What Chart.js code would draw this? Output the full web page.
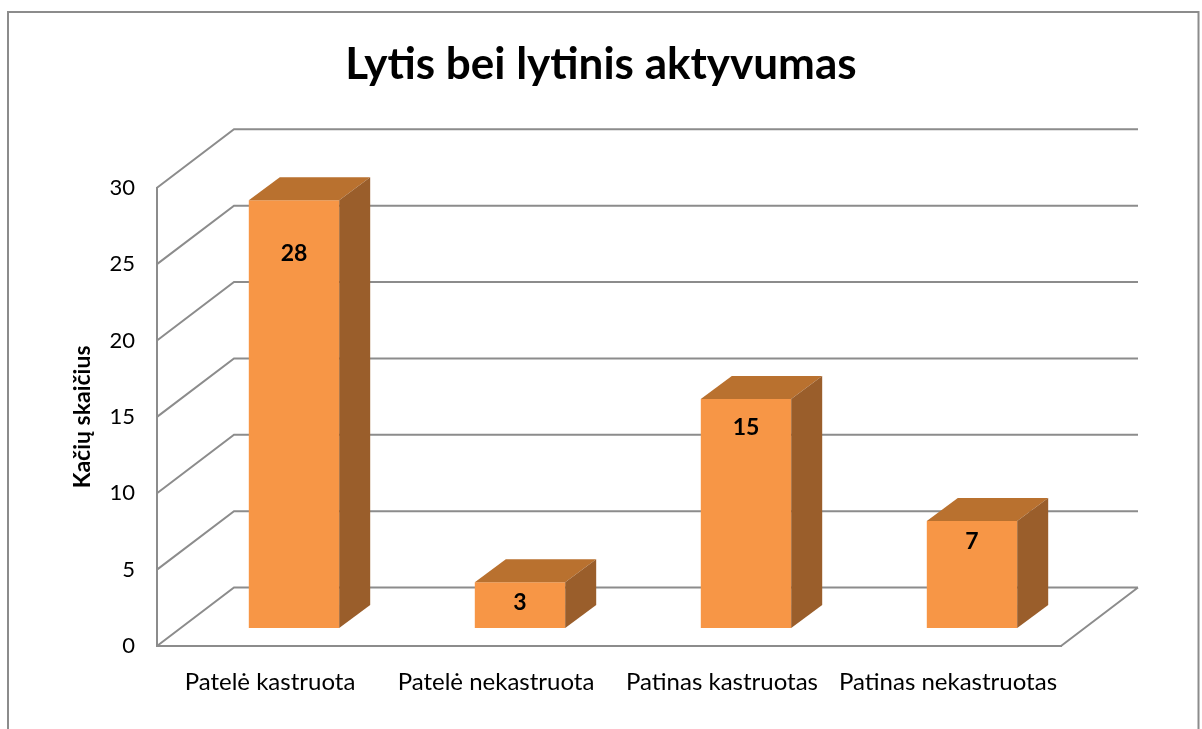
<!DOCTYPE html>
<html>
<head>
<meta charset="utf-8">
<script src="https://cdn.jsdelivr.net/npm/chart.js@4.4.1/dist/chart.umd.min.js"></script>
<style>
  html, body { margin: 0; padding: 0; background: #fff; }
  #wrap { position: relative; width: 1202px; height: 729px; }
</style>
</head>
<body>
<div id="wrap"><canvas id="chart"></canvas></div>
<script>
const categories = ['Patelė kastruota', 'Patelė nekastruota', 'Patinas kastruotas', 'Patinas nekastruotas'];
const catCounts = [28, 3, 15, 7];
const yTicks = [0, 5, 10, 15, 20, 25, 30];

const FONT = 'Lato, "Open Sans", sans-serif';
const GRID = '#8c8c8c';
const FRONT = '#f79646';
const TOP = '#b9712f';
const SIDE = '#9a5e2b';
// fake 3D: back wall offset, and where the bar front / back faces sit in depth
const WALL = { dx: 77, dy: -58.5 };
const BAR_FRONT = { dx: 24, dy: -18 };
const BAR_BACK = { dx: 55, dy: -41 };

const frame3d = {
  id: 'frame3d',
  beforeDraw(chart) {
    const ctx = chart.ctx;
    ctx.save();
    ctx.strokeStyle = GRID;
    ctx.lineWidth = 2;
    ctx.strokeRect(8, 12, 1190.5, 800);
    ctx.restore();
  },
  beforeDatasetsDraw(chart) {
    const { ctx, chartArea: a, scales: { y } } = chart;
    ctx.save();
    ctx.strokeStyle = GRID;
    ctx.lineWidth = 2;
    ctx.beginPath();
    yTicks.forEach(v => {
      const py = y.getPixelForValue(v);
      ctx.moveTo(a.left, py);
      ctx.lineTo(a.left + WALL.dx, py + WALL.dy);
      ctx.lineTo(a.right + WALL.dx, py + WALL.dy);
    });
    const y0 = y.getPixelForValue(yTicks[0]);
    ctx.moveTo(a.right, y0);
    ctx.lineTo(a.right + WALL.dx, y0 + WALL.dy);
    ctx.stroke();
    ctx.restore();
    // front faces are drawn by Chart.js, pushed back into the box
    ctx.save();
    ctx.translate(BAR_FRONT.dx, BAR_FRONT.dy);
  },
  afterDatasetsDraw(chart) {
    const ctx = chart.ctx;
    ctx.restore();
    const ddx = BAR_BACK.dx - BAR_FRONT.dx;
    const ddy = BAR_BACK.dy - BAR_FRONT.dy;
    chart.getDatasetMeta(0).data.forEach((bar, i) => {
      const { x, y, base, width } = bar.getProps(['x', 'y', 'base', 'width'], true);
      const l = x - width / 2 + BAR_FRONT.dx;
      const r = x + width / 2 + BAR_FRONT.dx;
      const t = y + BAR_FRONT.dy;
      const b = base + BAR_FRONT.dy;

      ctx.fillStyle = TOP;
      ctx.beginPath();
      ctx.moveTo(l, t);
      ctx.lineTo(l + ddx, t + ddy);
      ctx.lineTo(r + ddx, t + ddy);
      ctx.lineTo(r, t);
      ctx.closePath();
      ctx.fill();

      ctx.fillStyle = SIDE;
      ctx.beginPath();
      ctx.moveTo(r, t);
      ctx.lineTo(r + ddx, t + ddy);
      ctx.lineTo(r + ddx, b + ddy);
      ctx.lineTo(r, b);
      ctx.closePath();
      ctx.fill();

      const h = b - t;
      const off = Math.min(h / 2 + 3, Math.max(20, h * 0.125));
      ctx.fillStyle = '#000';
      ctx.font = 'bold 23px ' + FONT;
      ctx.textAlign = 'center';
      ctx.textBaseline = 'middle';
      ctx.fillText(String(catCounts[i]), (l + r) / 2, t + off);
    });
  }
};

new Chart(document.getElementById('chart'), {
  type: 'bar',
  data: {
    labels: categories,
    datasets: [{
      data: catCounts,
      backgroundColor: FRONT,
      borderWidth: 0,
      categoryPercentage: 1,
      barPercentage: 0.4
    }]
  },
  options: {
    responsive: true,
    maintainAspectRatio: false,
    animation: false,
    layout: { padding: 0 },
    plugins: {
      legend: { display: false },
      tooltip: { enabled: false },
      title: {
        display: true,
        text: 'Lytis bei lytinis aktyvumas',
        color: '#000',
        font: { family: FONT, size: 44, weight: 'bold' },
        padding: { top: 38, bottom: 97 }
      }
    },
    scales: {
      x: {
        grid: { display: false, drawTicks: false },
        border: { display: true, color: GRID, width: 2 },
        ticks: { color: '#000', font: { family: FONT, size: 24 }, padding: 22, maxRotation: 0, autoSkip: false },
        afterFit(s) { s.height = 83; }
      },
      y: {
        min: yTicks[0],
        max: yTicks[yTicks.length - 1],
        grid: { display: false, drawTicks: false },
        border: { display: true, color: GRID, width: 2 },
        ticks: { color: '#000', font: { family: FONT, size: 22 }, padding: 22 },
        afterBuildTicks(s) { s.ticks = yTicks.map(v => ({ value: v })); },
        title: {
          display: true,
          text: 'Kačių skaičius',
          color: '#000',
          font: { family: FONT, size: 23, weight: 'bold' },
          padding: { top: 69, bottom: 0 }
        },
        afterFit(s) { s.width = 157; }
      },
      // empty right-hand gutter so the plot ends where the 3D floor starts
      gutter: {
        type: 'linear',
        position: 'right',
        grid: { display: false, drawTicks: false },
        border: { display: false },
        ticks: { display: false },
        afterFit(s) { s.width = 141; }
      }
    }
  },
  plugins: [frame3d]
});
</script>
</body>
</html>
